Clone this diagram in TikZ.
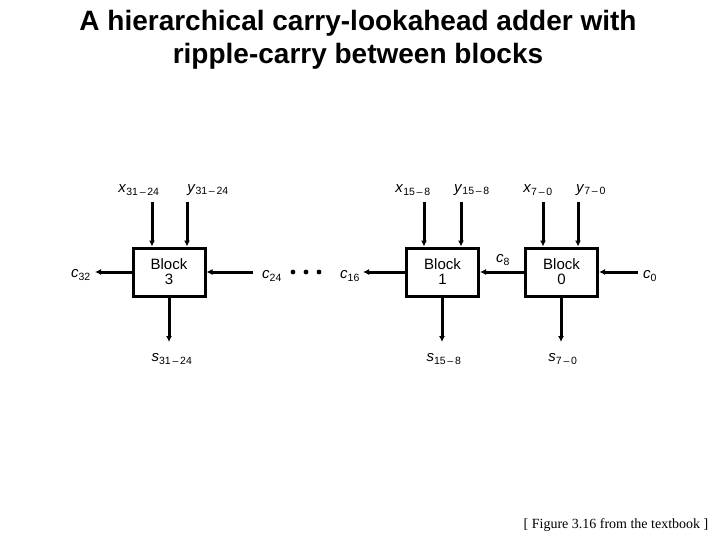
\documentclass[tikz,border=0pt]{standalone}
\usepackage{fontspec}
\setmainfont{Liberation Sans}
\newfontfamily\serifrm{Liberation Serif}
\usetikzlibrary{arrows.meta}
\newcommand{\bits}[2]{\textit{#1}\textsubscript{#2}}
\begin{document}
\begin{tikzpicture}[x=1pt,y=-1pt,every node/.style={font=\fontsize{15}{17}\selectfont},
  blockbox/.style={draw,line width=3pt,minimum width=72pt,minimum height=48pt,align=center,inner sep=0pt,font=\fontsize{15}{15}\selectfont},
  wire/.style={line width=3pt,-{Latex[length=6pt,width=6pt]}},
  lbl/.style={inner sep=1pt}]
\useasboundingbox (0,0) rectangle (720,540);
\node[font=\bfseries\fontsize{28}{33}\selectfont,align=center] (title) at (358,40) {A hierarchical carry-lookahead adder with\\ ripple-carry between blocks};
% the three blocks
\node[blockbox] (b3) at (169,272) {Block\\ 3};
\node[blockbox] (b1) at (442.5,272) {Block\\ 1};
\node[blockbox] (b0) at (561.5,272) {Block\\ 0};
% operand inputs
\node[lbl] (x3) at (139,190) {\bits{x}{31\,--\,24}};
\node[lbl] (y3) at (208,190) {\bits{y}{31\,--\,24}};
\node[lbl] (x1) at (413,190) {\bits{x}{15\,--\,8}};
\node[lbl] (y1) at (472,190) {\bits{y}{15\,--\,8}};
\node[lbl] (x0) at (538,190) {\bits{x}{7\,--\,0}};
\node[lbl] (y0) at (591,190) {\bits{y}{7\,--\,0}};
\coordinate (xi3) at (152,202);
\coordinate (yi3) at (187,202);
\coordinate (xi1) at (424,202);
\coordinate (yi1) at (461,202);
\coordinate (xi0) at (543,202);
\coordinate (yi0) at (578,202);
\draw[wire] (xi3) -- (xi3 |- b3.north);
\draw[wire] (yi3) -- (yi3 |- b3.north);
\draw[wire] (xi1) -- (xi1 |- b1.north);
\draw[wire] (yi1) -- (yi1 |- b1.north);
\draw[wire] (xi0) -- (xi0 |- b0.north);
\draw[wire] (yi0) -- (yi0 |- b0.north);
% carries
\node[lbl] (c32) at (81,275) {\bits{c}{32}};
\node[lbl] (c24) at (272,276) {\bits{c}{24}};
\node[lbl] (c16) at (350,276) {\bits{c}{16}};
\node[lbl] (c8) at (503,260) {\bits{c}{8}};
\node[lbl] (c0) at (650,276) {\bits{c}{0}};
\coordinate (co3) at (95,272);
\coordinate (ci3) at (253,272);
\coordinate (co1) at (363,272);
\coordinate (ci0) at (638,272);
\draw[wire] (b3.west) -- (co3);
\draw[wire] (ci3) -- (b3.east);
\draw[wire] (b1.west) -- (co1);
\draw[wire] (b0.west) -- (b1.east);
\draw[wire] (ci0) -- (b0.east);
\foreach \dx in {293,306,319}
  \fill (\dx,272) circle (2.4pt);
% sums
\node[lbl] (s3) at (172,359) {\bits{s}{31\,--\,24}};
\node[lbl] (s1) at (444,359) {\bits{s}{15\,--\,8}};
\node[lbl] (s0) at (563,359) {\bits{s}{7\,--\,0}};
\coordinate (so3) at (169,342);
\coordinate (so1) at (442,342);
\coordinate (so0) at (561,342);
\draw[wire] (so3 |- b3.south) -- (so3);
\draw[wire] (so1 |- b1.south) -- (so1);
\draw[wire] (so0 |- b0.south) -- (so0);
\node[font=\serifrm\fontsize{14}{16}\selectfont] (src) at (616,525) {[ Figure 3.16 from the textbook ]};
\end{tikzpicture}
\end{document}
